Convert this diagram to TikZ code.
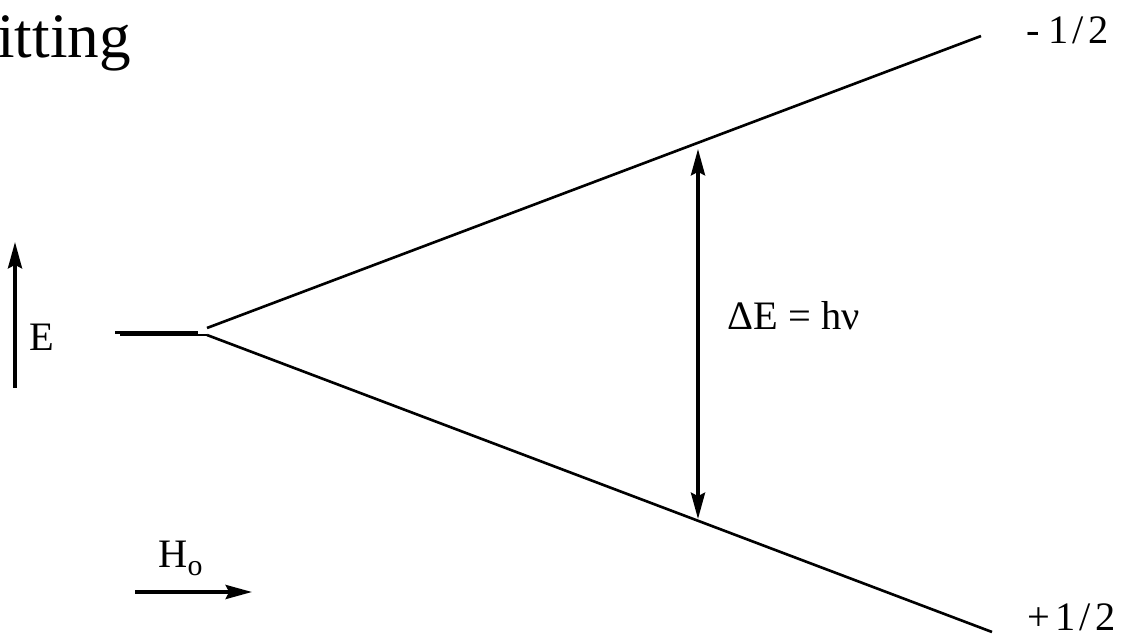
\documentclass[tikz,border=0pt]{standalone}
\usepackage{fontspec}
\setmainfont{Liberation Serif}
\usetikzlibrary{positioning, arrows.meta}

\begin{document}
\begin{tikzpicture}[x=0.02cm,y=-0.02cm,
  splitline/.style={line width=1.5pt},
  tip/.tip={Stealth[length=15pt,width=8pt,inset=2pt]},
  bigarrow/.style={line width=2pt,-tip},
  lab/.style={inner sep=0pt,font=\fontsize{23}{27}\selectfont},
  frac/.style={inner sep=0pt,anchor=base west,font=\fontsize{23}{27}\selectfont}]
\useasboundingbox (0,0) rectangle (1126,638);
\node[anchor=base west,inner sep=0pt,font=\fontsize{36}{42}\selectfont] (title) at (-3,58) {itting};
% energy axis
\coordinate (e0) at (15,388);
\coordinate (e1) at (15,242);
\draw[bigarrow] (e0) -- (e1);
\node[lab] (elab) at (42,337) {E};
% level at zero field
\coordinate (z0) at (115,332.5);
\coordinate (z1) at (198,332.5);
\coordinate (z2) at (120,335);
\coordinate (z3) at (207,335);
\draw[splitline] (z0) -- (z1);
\draw[splitline] (z2) -- (z3);
% the two spin states
\coordinate (up0) at (207,328);
\coordinate (up1) at (981,36);
\coordinate (dn0) at (207,335);
\coordinate (dn1) at (992,632);
\draw[splitline] (up0) -- (up1);
\draw[splitline] (dn0) -- (dn1);
\node[frac] (mhalf) at (1026,44) {-\kern5pt1\kern2pt/\kern3pt2};
\node[frac] (phalf) at (1027,630) {+\kern3pt1\kern2pt/\kern3pt2};
% transition
\coordinate (t0) at (698,519);
\coordinate (t1) at (698,149);
\draw[bigarrow,tip-tip] (t0) -- (t1);
\node[lab,anchor=base west] (dE) at (727,330) {ΔE = hν};
% field direction
\node[lab,anchor=base west] (hlab) at (158,567) {H\raisebox{-5pt}{\fontsize{17}{17}\selectfont o}};
\coordinate (h0) at (135,592);
\coordinate (h1) at (252,592);
\draw[bigarrow] (h0) -- (h1);
\end{tikzpicture}
\end{document}
